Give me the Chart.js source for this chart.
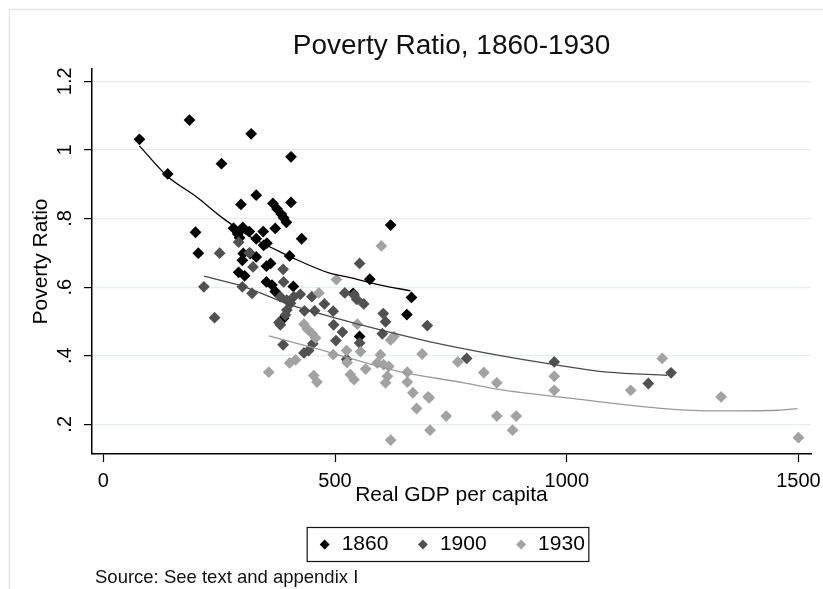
<!DOCTYPE html>
<html>
<head>
<meta charset="utf-8">
<script src="https://cdn.jsdelivr.net/npm/chart.js@4.4.1/dist/chart.umd.min.js"></script>
<style>
  html, body { margin: 0; padding: 0; background: #fff; }
</style>
</head>
<body>
<canvas id="chart" width="823" height="589"></canvas>
<script>
// values
const x1860 = [78, 186, 319, 139, 255, 405, 330, 297, 405, 366, 375, 384, 389, 395, 199, 205, 281, 301, 315, 290,
               294, 345, 371, 428, 330, 346, 353, 402, 302, 317, 300, 330, 352, 361, 292, 305, 352, 364, 371, 410,
               620, 575, 665, 655, 389, 553, 539];
const y1860 = [1.031, 1.087, 1.047, 0.930, 0.960, 0.980, 0.868, 0.841, 0.847, 0.844, 0.828, 0.813, 0.802, 0.789, 0.760, 0.699, 0.772, 0.774, 0.762, 0.755,
               0.744, 0.762, 0.771, 0.741, 0.741, 0.722, 0.728, 0.691, 0.698, 0.698, 0.678, 0.688, 0.661, 0.669, 0.643, 0.633, 0.615, 0.606, 0.587, 0.602,
               0.781, 0.623, 0.570, 0.520, 0.509, 0.456, 0.582];

const x1900 = [251, 292, 315, 323, 388, 389, 217, 300, 321, 240, 553, 382, 396, 404, 396, 393, 411, 425, 450, 477,
               496, 434, 456, 521, 541, 547, 562, 604, 609, 699, 382, 497, 516, 602, 502, 553, 388, 452, 433, 443,
               379, 525, 784, 973, 1176, 1225];
const y1900 = [0.699, 0.731, 0.700, 0.659, 0.652, 0.615, 0.601, 0.601, 0.582, 0.511, 0.669, 0.572, 0.562, 0.553, 0.533, 0.519, 0.572, 0.579, 0.572, 0.551,
               0.530, 0.531, 0.531, 0.583, 0.577, 0.564, 0.551, 0.523, 0.499, 0.488, 0.490, 0.490, 0.469, 0.464, 0.444, 0.437, 0.432, 0.435, 0.408, 0.415,
               0.497, 0.390, 0.392, 0.382, 0.319, 0.350];

const x1930 = [600, 503, 465, 548, 433, 440, 450, 458, 620, 627, 688, 496, 525, 555, 402, 415, 598, 591, 605, 616,
               526, 566, 357, 454, 461, 533, 541, 609, 613, 656, 656, 668, 676, 703, 765, 821, 849, 849, 891, 883,
               740, 705, 620, 701, 973, 973, 1138, 1206, 1333, 1500];
const y1930 = [0.720, 0.622, 0.583, 0.492, 0.492, 0.478, 0.465, 0.452, 0.446, 0.456, 0.405, 0.403, 0.415, 0.412, 0.379, 0.388, 0.403, 0.379, 0.374, 0.369,
               0.380, 0.361, 0.352, 0.342, 0.323, 0.345, 0.330, 0.321, 0.340, 0.352, 0.323, 0.292, 0.246, 0.277, 0.382, 0.351, 0.321, 0.224, 0.224, 0.183,
               0.224, 0.183, 0.154, 0.280, 0.340, 0.299, 0.299, 0.392, 0.280, 0.161];

// fitted curves
const fit1860X = [78, 137, 202, 260, 318, 375, 404, 490, 526, 598, 663];
const fit1860Y = [1.012, 0.925, 0.862, 0.799, 0.746, 0.707, 0.688, 0.640, 0.630, 0.606, 0.589];
const fit1900X = [217, 300, 404, 490, 598, 703, 857, 973, 1088, 1217];
const fit1900Y = [0.632, 0.603, 0.548, 0.514, 0.475, 0.441, 0.400, 0.374, 0.352, 0.343];
const fit1930X = [357, 454, 634, 778, 857, 1001, 1217, 1325, 1455, 1498];
const fit1930Y = [0.458, 0.423, 0.355, 0.321, 0.301, 0.277, 0.245, 0.239, 0.241, 0.246];

const xTicks = [0, 500, 1000, 1500];
const xTickLabels = ['0', '500', '1000', '1500'];
const yTicks = [0.2, 0.4, 0.6, 0.8, 1.0, 1.2];
const yTickLabels = ['.2', '.4', '.6', '.8', '1', '1.2'];

const FONT = "'Liberation Sans', Arial, sans-serif";
Chart.defaults.font.family = FONT;
Chart.defaults.color = '#000';

function pairUp(xs, ys) {
    return xs.map((x, i) => ({ x: x, y: ys[i] }));
}

// white page with the faint stata frame on the top and left
const framePlugin = {
    id: 'frame',
    beforeDraw(chart) {
        const ctx = chart.ctx;
        ctx.save();
        ctx.fillStyle = '#fff';
        ctx.fillRect(0, 0, chart.width, chart.height);
        ctx.strokeStyle = '#dfe9ec';
        ctx.lineWidth = 1.5;
        ctx.beginPath();
        ctx.moveTo(9.5, chart.height);
        ctx.lineTo(9.5, 9.5);
        ctx.lineTo(chart.width, 9.5);
        ctx.stroke();
        ctx.restore();
    }
};

// box round the legend items + source note
const extrasPlugin = {
    id: 'extras',
    afterDraw(chart) {
        const ctx = chart.ctx;
        const hb = chart.legend.legendHitBoxes;
        if (hb && hb.length) {
            const first = hb[0];
            const last = hb[hb.length - 1];
            const cy = first.top + first.height / 2;
            ctx.save();
            ctx.strokeStyle = '#111';
            ctx.lineWidth = 1.2;
            ctx.strokeRect(first.left - 11, cy - 17, (last.left + last.width + 4) - (first.left - 11), 34);
            ctx.restore();
        }
        ctx.save();
        ctx.fillStyle = '#111';
        ctx.font = '18.5px ' + FONT;
        ctx.textBaseline = 'middle';
        ctx.textAlign = 'left';
        ctx.fillText('Source: See text and appendix I', 95, 578);
        ctx.restore();
    }
};

const ctx = document.getElementById('chart').getContext('2d');
const chart = new Chart(ctx, {
    type: 'scatter',
    data: {
        datasets: [
            {
                label: '1860',
                data: pairUp(x1860, y1860),
                backgroundColor: '#000000',
                borderColor: '#000000',
                borderWidth: 0,
                pointStyle: 'rectRot',
                pointRadius: 5.9,
                order: 3
            },
            {
                label: '1900',
                data: pairUp(x1900, y1900),
                backgroundColor: '#515151',
                borderColor: '#515151',
                borderWidth: 0,
                pointStyle: 'rectRot',
                pointRadius: 5.9,
                order: 2
            },
            {
                label: '1930',
                data: pairUp(x1930, y1930),
                backgroundColor: '#a2a2a2',
                borderColor: '#a2a2a2',
                borderWidth: 0,
                pointStyle: 'rectRot',
                pointRadius: 5.9,
                order: 1
            },
            {
                label: 'fit1860',
                data: pairUp(fit1860X, fit1860Y),
                showLine: true,
                borderColor: '#000000',
                borderWidth: 1.3,
                pointRadius: 0,
                cubicInterpolationMode: 'monotone',
                order: 0
            },
            {
                label: 'fit1900',
                data: pairUp(fit1900X, fit1900Y),
                showLine: true,
                borderColor: '#4a4a4a',
                borderWidth: 1.3,
                pointRadius: 0,
                cubicInterpolationMode: 'monotone',
                order: 0
            },
            {
                label: 'fit1930',
                data: pairUp(fit1930X, fit1930Y),
                showLine: true,
                borderColor: '#9a9a9a',
                borderWidth: 1.3,
                pointRadius: 0,
                cubicInterpolationMode: 'monotone',
                order: 0
            }
        ]
    },
    options: {
        responsive: false,
        animation: false,
        devicePixelRatio: 1,
        events: [],
        layout: {
            padding: { left: 0, right: 12, top: 0, bottom: 24 }
        },
        plugins: {
            title: {
                display: true,
                text: 'Poverty Ratio, 1860-1930',
                fullSize: false,
                color: '#111',
                font: { size: 28, weight: 'normal' },
                padding: { top: 29.2, bottom: 6.2 }
            },
            legend: {
                position: 'bottom',
                fullSize: false,
                labels: {
                    usePointStyle: true,
                    boxWidth: 13,
                    boxHeight: 7,
                    padding: 28,
                    color: '#000',
                    font: { size: 21 },
                    filter: item => !item.text.startsWith('fit'),
                    sort: (a, b) => a.datasetIndex - b.datasetIndex
                }
            },
            tooltip: { enabled: false }
        },
        scales: {
            x: {
                type: 'linear',
                position: 'bottom',
                min: -24.4,
                max: 1527,
                afterBuildTicks: s => { s.ticks = xTicks.map(v => ({ value: v })); },
                afterFit: s => { s.height = 52; s.paddingLeft = 0; s.paddingRight = 0; },
                ticks: {
                    font: { size: 20 },
                    color: '#000',
                    padding: 7,
                    autoSkip: false,
                    maxRotation: 0,
                    callback: (v, i) => xTickLabels[i]
                },
                grid: {
                    drawOnChartArea: false,
                    tickLength: 8,
                    tickColor: '#000',
                    tickWidth: 1.2
                },
                border: { color: '#000', width: 1.5 },
                title: {
                    display: true,
                    text: 'Real GDP per capita',
                    color: '#000',
                    font: { size: 21, lineHeight: 1 },
                    padding: { top: 0, bottom: 0.5 }
                }
            },
            y: {
                type: 'linear',
                min: 0.1134,
                max: 1.236,
                afterBuildTicks: s => { s.ticks = yTicks.map(v => ({ value: v })); },
                afterFit: s => { s.width = 92; s.paddingTop = 0; s.paddingBottom = 0; },
                ticks: {
                    font: { size: 20 },
                    color: '#000',
                    padding: 5,
                    autoSkip: false,
                    minRotation: 90,
                    maxRotation: 90,
                    crossAlign: 'center',
                    callback: (v, i) => yTickLabels[i]
                },
                grid: {
                    color: '#e4eef0',
                    lineWidth: 1.2,
                    tickLength: 8,
                    tickColor: '#000',
                    tickWidth: 1.2
                },
                border: { color: '#000', width: 1.5 },
                title: {
                    display: true,
                    text: 'Poverty Ratio',
                    color: '#000',
                    font: { size: 21 },
                    padding: { top: 28.4, bottom: 0 }
                }
            }
        }
    },
    plugins: [framePlugin, extrasPlugin]
});
</script>
</body>
</html>
